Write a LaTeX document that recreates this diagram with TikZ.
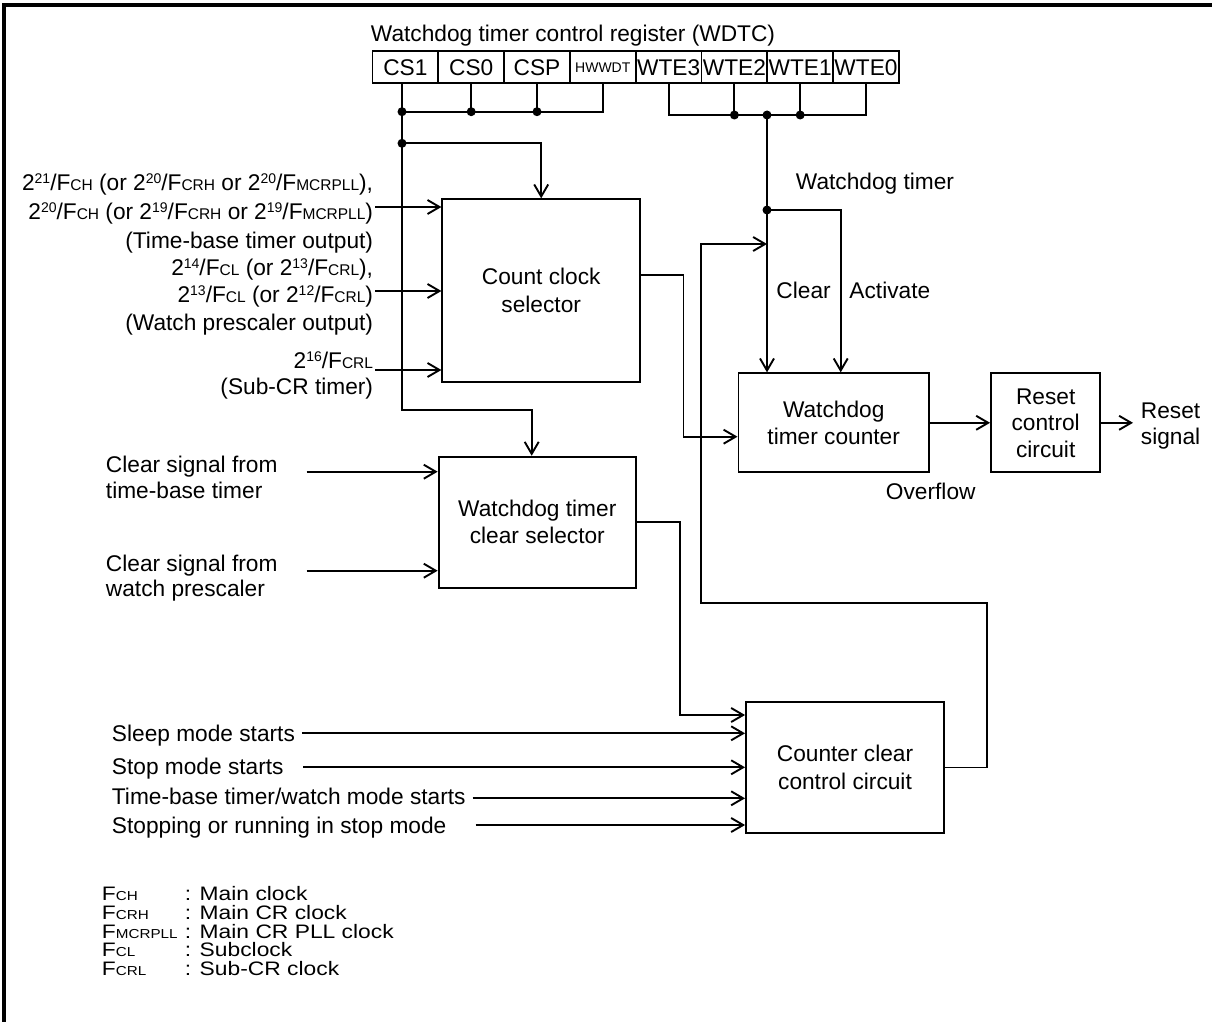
\documentclass[tikz,border=0pt]{standalone}
\usepackage{fontspec}
\setmainfont{Liberation Sans}
\newfontfamily\lgfont{Liberation Sans}[FakeStretch=1.17]
\usetikzlibrary{arrows.meta}
\newcommand\pw[1]{\raisebox{7pt}{\fontsize{14pt}{14pt}\selectfont #1}}
\newcommand\fq[1]{F{\fontsize{15.5pt}{15.5pt}\selectfont #1}}
\newcommand\fl[1]{F{\fontsize{13pt}{13pt}\selectfont #1}}
\begin{document}
\begin{tikzpicture}[x=1pt,y=-1pt,line width=1.9pt,
  txt/.style={inner sep=0pt,font=\fontsize{22.7pt}{27pt}\selectfont},
  lg/.style={inner sep=0pt,font=\lgfont\fontsize{19.5pt}{18.7pt}\selectfont},
  box/.style={draw,line width=1.9pt,inner sep=0pt,align=center,font=\fontsize{22.7pt}{27pt}\selectfont},
  cell/.style={draw,line width=1.9pt,inner sep=0pt,minimum width=65.8pt,minimum height=32.3pt,font=\fontsize{22.7pt}{27pt}\selectfont},
  arr/.style={-{Straight Barb[length=12pt,width=14pt]}},
  dot/.style={circle,fill,inner sep=0pt,minimum size=9pt}]
\useasboundingbox (0,0) rectangle (1212,1022);
\draw[line width=4.5pt] (4,1022) -- (4,5) -- (1212,5);

% register
\node[txt,anchor=base west] (title) at (370,42) {Watchdog timer control register (WDTC)};
\node[cell] (r1) at (405.4,67.2) {CS1};
\node[cell] (r2) at (471.2,67.2) {CS0};
\node[cell] (r3) at (537.0,67.2) {CSP};
\node[cell,font=\fontsize{14pt}{14pt}\selectfont] (r4) at (602.8,67.2) {HWWDT};
\node[cell] (r5) at (668.6,67.2) {WTE3};
\node[cell] (r6) at (734.4,67.2) {WTE2};
\node[cell] (r7) at (800.2,67.2) {WTE1};
\node[cell] (r8) at (866.0,67.2) {WTE0};

% blocks
\node[box,minimum width=197.7pt,minimum height=182.4pt,font=\fontsize{22.7pt}{28.3pt}\selectfont] (ccs) at (541.2,290.5) {Count clock\\selector};
\node[box,minimum width=197.4pt,minimum height=131pt] (wcs) at (537.3,522.2) {Watchdog timer\\clear selector};
\node[box,minimum width=190.5pt,minimum height=99pt] (wtc) at (833.7,422.8) {Watchdog\\timer counter};
\node[box,minimum width=109.4pt,minimum height=99pt,font=\fontsize{22.7pt}{26.5pt}\selectfont] (rcc) at (1045.7,422.8) {Reset\\control\\circuit};
\node[box,minimum width=198pt,minimum height=131.6pt,font=\fontsize{22.7pt}{28.3pt}\selectfont] (ccc) at (845,767.5) {Counter clear\\control circuit};

% coordinates
\coordinate (cs) at (402,111.7);
\coordinate (cs2) at (402,143.3);
\coordinate (cb) at (402,410);
\coordinate (wb) at (767,115);
\coordinate (wd) at (767,210);
\coordinate (act) at (840.7,210);
\coordinate (f1) at (986.7,603.3);
\coordinate (f2) at (701.3,244);
\coordinate (k1) at (683.5,275);
\coordinate (k2) at (683.5,436.7);
\coordinate (k3) at (680,715);
\coordinate (ro) at (1133,422.8);

% register buses
\draw (r1.south -| cs) -- (cs);
\draw (r2.south) -- (r2.south |- cs);
\draw (r3.south) -- (r3.south |- cs);
\draw (r4.south) |- (cs);
\draw (cs) -- (cs2);
\draw[arr] (cs2) -| (ccs.north);
\draw[arr] (cs2) -- (cb) -| ([xshift=-5.6pt]wcs.north);
\draw (r5.south) |- (r8.south |- wb) -- (r8.south);
\draw (r6.south) -- (r6.south |- wb);
\draw (r7.south) -- (r7.south |- wb);
\draw (wb) -- (wd);
\draw[arr] (wd) -- (wd |- wtc.north);
\draw[arr] (wd) -- (act) -- (act |- wtc.north);
\node[dot] (d1) at (cs) {};
\node[dot] (d2) at (r2.south |- cs) {};
\node[dot] (d3) at (r3.south |- cs) {};
\node[dot] (d4) at (cs2) {};
\node[dot] (d5) at (r6.south |- wb) {};
\node[dot] (d6) at (wb) {};
\node[dot] (d7) at (r7.south |- wb) {};
\node[dot] (d8) at (wd) {};

% internal connections
\draw[arr] (ccc.east) -| (f1) -| (f2) -- (f2 -| wd);
\draw[arr] (ccs.east |- k1) -- (k1) -- (k2) -- (k2 -| wtc.west);
\draw[arr] (wcs.east) -| (k3) -- (k3 -| ccc.west);
\draw[arr] (wtc.east) -- (rcc.west);
\draw[arr] (rcc.east) -- (ro);

% left labels for count clock selector
\node[txt,anchor=base east] (l1) at (374,190.5) {2\pw{21}/\fq{CH} (or 2\pw{20}/\fq{CRH} or 2\pw{20}/\fq{MCRPLL}),};
\node[txt,anchor=base east] (l2) at (374,219) {2\pw{20}/\fq{CH} (or 2\pw{19}/\fq{CRH} or 2\pw{19}/\fq{MCRPLL})};
\node[txt,anchor=base east] (l3) at (374,248) {(Time-base timer output)};
\node[txt,anchor=base east] (l4) at (374,275) {2\pw{14}/\fq{CL} (or 2\pw{13}/\fq{CRL}),};
\node[txt,anchor=base east] (l5) at (374,302.5) {2\pw{13}/\fq{CL} (or 2\pw{12}/\fq{CRL})};
\node[txt,anchor=base east] (l6) at (374,330.5) {(Watch prescaler output)};
\node[txt,anchor=base east] (l7) at (374,368) {2\pw{16}/\fq{CRL}};
\node[txt,anchor=base east] (l8) at (374,394.5) {(Sub-CR timer)};
\coordinate (a1) at (375,207);
\coordinate (a2) at (375,291);
\coordinate (a3) at (375,370);
\draw[arr] (a1) -- (a1 -| ccs.west);
\draw[arr] (a2) -- (a2 -| ccs.west);
\draw[arr] (a3) -- (a3 -| ccs.west);

% clear selector inputs
\node[txt,anchor=base west] (c1) at (105,472.5) {Clear signal from};
\node[txt,anchor=base west] (c2) at (105,498) {time-base timer};
\node[txt,anchor=base west] (c3) at (105,571) {Clear signal from};
\node[txt,anchor=base west] (c4) at (105,596) {watch prescaler};
\coordinate (b1) at (306.6,471.7);
\coordinate (b2) at (306.6,570.7);
\draw[arr] (b1) -- (b1 -| wcs.west);
\draw[arr] (b2) -- (b2 -| wcs.west);

% counter clear inputs
\node[txt,anchor=base west] (m1) at (111,741) {Sleep mode starts};
\node[txt,anchor=base west] (m2) at (111,774) {Stop mode starts};
\node[txt,anchor=base west] (m3) at (111,804) {Time-base timer/watch mode starts};
\node[txt,anchor=base west] (m4) at (111,833) {Stopping or running in stop mode};
\coordinate (e1) at (301.8,733.3);
\coordinate (e2) at (303,767.3);
\coordinate (e3) at (472.7,798.3);
\coordinate (e4) at (475.7,825);
\draw[arr] (e1) -- (e1 -| ccc.west);
\draw[arr] (e2) -- (e2 -| ccc.west);
\draw[arr] (e3) -- (e3 -| ccc.west);
\draw[arr] (e4) -- (e4 -| ccc.west);

% other labels
\node[txt,anchor=base west] (wdt) at (795,189) {Watchdog timer};
\node[txt,anchor=base west] (clr) at (775.5,298) {Clear};
\node[txt,anchor=base west] (actl) at (848.5,298) {Activate};
\node[txt,anchor=base west] (ovf) at (885,499.5) {Overflow};
\node[txt,anchor=base west] (rs1) at (1140,418) {Reset};
\node[txt,anchor=base west] (rs2) at (1140,444.5) {signal};

% legend
\node[lg,anchor=base west] (g1) at (101,900.7) {\fl{CH}};
\node[lg,anchor=base west] (g2) at (101,919.3) {\fl{CRH}};
\node[lg,anchor=base west] (g3) at (101,938.3) {\fl{MCRPLL}};
\node[lg,anchor=base west] (g4) at (101,956.7) {\fl{CL}};
\node[lg,anchor=base west] (g5) at (101,975.3) {\fl{CRL}};
\node[lg,anchor=base west] (h1) at (184,900.7) {: Main clock};
\node[lg,anchor=base west] (h2) at (184,919.3) {: Main CR clock};
\node[lg,anchor=base west] (h3) at (184,938.3) {: Main CR PLL clock};
\node[lg,anchor=base west] (h4) at (184,956.7) {: Subclock};
\node[lg,anchor=base west] (h5) at (184,975.3) {: Sub-CR clock};
\end{tikzpicture}
\end{document}
